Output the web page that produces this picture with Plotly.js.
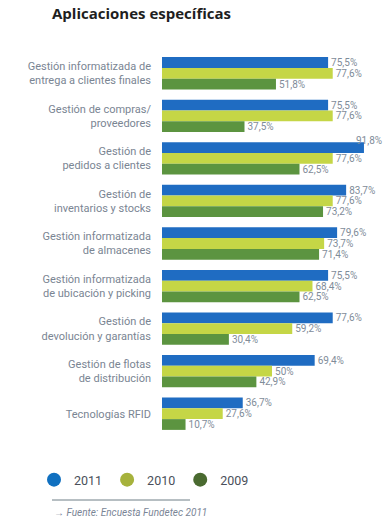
<!DOCTYPE html>
<html>
<head>
<meta charset="utf-8">
<script src="https://cdn.plot.ly/plotly-3.0.1.min.js"></script>
<style>html,body{margin:0;padding:0;background:#fff;}#chart{width:388px;height:527px;}</style>
</head>
<body>
<div id="chart"></div>
<script>
var categories = [
  "Gestión informatizada de<br>entrega a clientes finales",
  "Gestión de compras/<br>proveedores",
  "Gestión de<br>pedidos a clientes",
  "Gestión de<br>inventarios y stocks",
  "Gestión informatizada<br>de almacenes",
  "Gestión informatizada<br>de ubicación y picking",
  "Gestión de<br>devolución y garantías",
  "Gestión de flotas<br>de distribución",
  "Tecnologías RFID"
];
var values2011 = [75.5, 75.5, 91.8, 83.7, 79.6, 75.5, 77.6, 69.4, 36.7];
var values2010 = [77.6, 77.6, 77.6, 77.6, 73.7, 68.4, 59.2, 50, 27.6];
var values2009 = [51.8, 37.5, 62.5, 73.2, 71.4, 62.5, 30.4, 42.9, 10.7];
var seriesNames = ["2011", "2010", "2009"];
var barColors = ["#1f6cc2", "#c5d646", "#5c9440"];
var legendColors = ["#1070c0", "#a6b23c", "#4a6a30"];

function fmt(v){ return String(v).replace('.', ',') + '%'; }
var FONT = "Roboto, sans-serif";
var labelFont = {family: FONT, size: 10, color: "#7f8c99"};
var XMAX = 100;

var allValues = [values2011, values2010, values2009];
var traces = [];
var annotations = [];
allValues.forEach(function(vals, i){
  traces.push({
    type: 'bar', orientation: 'h', y: categories, x: vals,
    name: seriesNames[i], showlegend: false,
    marker: {color: barColors[i], line: {width: 0}},
    text: vals.map(function(v){ return v > 88 ? '' : fmt(v); }),
    textposition: 'outside', cliponaxis: false,
    textfont: labelFont, constraintext: 'none', hoverinfo: 'skip'
  });
  vals.forEach(function(v, j){
    if (v > 88) {
      annotations.push({text: fmt(v), x: v, y: categories[j], xref: 'x', yref: 'y',
        xanchor: 'left', yanchor: 'bottom', xshift: -10, yshift: 10, showarrow: false, font: labelFont});
    }
  });
});
seriesNames.forEach(function(n, i){
  traces.push({
    type: 'scatter', mode: 'markers', x: [null], y: [null], name: n,
    marker: {symbol: 'circle', size: 14, color: legendColors[i]}, showlegend: true
  });
});

annotations.push({text: "<i>→ Fuente: Encuesta Fundetec 2011</i>", xref: 'paper', yref: 'paper',
  x: (52-162)/220, xanchor: 'left', y: -(512-435)/383, yanchor: 'middle', showarrow: false,
  font: {family: FONT, size: 10, color: "#7a8596"}});

var layout = {
  width: 388, height: 527,
  margin: {l: 162, r: 6, t: 52, b: 92},
  paper_bgcolor: '#fff', plot_bgcolor: '#fff',
  title: {text: "Aplicaciones específicas", x: 52/388, xanchor: 'left', xref: 'container',
          y: 1 - 14/527, yanchor: 'middle', yref: 'container',
          font: {family: "Open Sans, Noto Sans, sans-serif", size: 15, color: "#1e1e1e", weight: 'bold'}},
  barmode: 'group', bargap: 0.24, bargroupgap: 0,
  xaxis: {range: [0, XMAX], visible: false, fixedrange: true},
  yaxis: {autorange: 'reversed', type: 'category', showgrid: false, zeroline: false, showline: false,
          ticks: '', ticklabelstandoff: 10,
          tickfont: {family: FONT, size: 11, color: "#7a8593"}},
  legend: {orientation: 'h', x: 34/388, xanchor: 'left', y: 1 - 480/527, yanchor: 'middle',
           xref: 'container', yref: 'container',
           font: {family: FONT, size: 12.5, color: "#4a4f5a"},
           itemwidth: 30, tracegroupgap: 0},
  shapes: [{type: 'line', xref: 'paper', yref: 'paper', x0: (52-162)/220, x1: (190-162)/220,
            y0: -(500-435)/383, y1: -(500-435)/383, line: {color: '#6e7f86', width: 1}}],
  annotations: annotations
};
Plotly.newPlot('chart', traces, layout, {displayModeBar: false, staticPlot: true});
</script>
</body>
</html>
